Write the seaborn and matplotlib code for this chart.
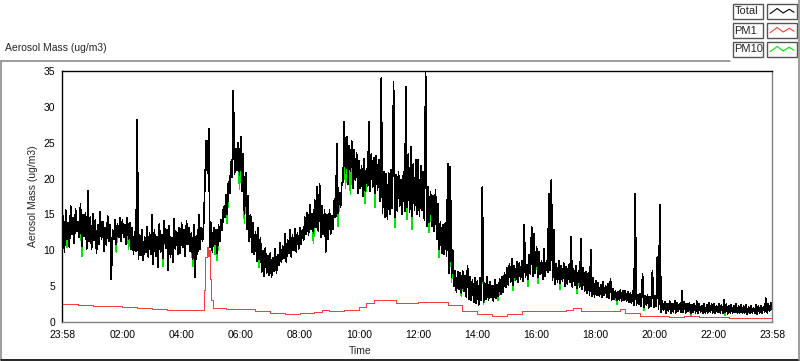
import numpy as np
import pandas as pd
import matplotlib
matplotlib.use("Agg")
import matplotlib.pyplot as plt
from matplotlib.lines import Line2D
from matplotlib.patches import Rectangle
import seaborn as sns

# ---------------- data ----------------
# Total aerosol mass read per 5-minute bin from 23:58: the low and the high
# reading of the noisy trace inside each bin (one row per hour)
total_start = "2024-01-01 23:58"
bin_min = 5
total_lo = [
    7.0, 9.8, 11.5, 10.4, 12.2, 11.0, 12.6, 11.8, 10.6, 12.0, 10.2, 11.3,
    10.1, 11.4, 9.6, 10.8, 11.6, 9.9, 10.7, 11.2, 5.9, 11.5, 10.9, 11.8,
    11.2, 11.8, 10.9, 11.5, 10.2, 9.5, 9.9, 8.7, 9.3, 8.6, 9.8, 9.1,
    9.5, 8.1, 9.2, 7.6, 9.8, 8.9, 10.3, 7.2, 9.0, 8.4, 10.1, 9.4,
    9.6, 10.4, 9.2, 10.8, 9.9, 8.8, 6.3, 9.5, 10.1, 11.2, 19.5, 20.8,
    10.5, 9.8, 10.9, 9.6, 11.2, 12.8, 14.6, 15.1, 17.9, 20.2, 20.6, 21.2,
    20.5, 18.2, 15.0, 13.0, 11.2, 9.8, 9.4, 8.5, 8.7, 7.0, 6.4, 6.8,
    6.5, 6.2, 7.1, 6.8, 7.9, 8.3, 8.9, 8.4, 9.6, 9.1, 10.0, 9.8,
    10.2, 10.9, 11.4, 12.3, 12.1, 12.9, 12.4, 13.2, 12.6, 11.8, 12.2, 9.8,
    11.5, 12.3, 13.0, 14.6, 15.2, 16.0, 19.5, 20.8, 19.2, 21.0, 18.6, 19.8,
    18.0, 18.6, 17.5, 18.3, 19.0, 18.2, 18.8, 17.9, 18.4, 16.8, 15.2, 14.6,
    14.4, 15.0, 15.8, 14.6, 15.5, 16.2, 15.0, 15.4, 16.0, 15.3, 14.8, 15.6,
    15.0, 14.8, 15.6, 14.2, 13.3, 13.9, 13.4, 12.6, 11.5, 10.2, 9.6, 9.5,
    9.2, 6.8, 6.3, 5.0, 4.2, 4.6, 4.0, 4.3, 3.5, 3.2, 3.0, 2.8,
    2.6, 2.3, 3.0, 2.8, 3.2, 3.0, 3.4, 2.9, 3.3, 3.6, 3.9, 4.2,
    4.9, 5.2, 5.6, 5.1, 5.8, 5.5, 6.0, 5.7, 6.2, 5.9, 6.6, 6.4,
    6.8, 6.3, 6.6, 6.0, 6.4, 6.9, 7.2, 5.8, 5.3, 5.6, 5.4, 5.7,
    5.0, 5.3, 5.6, 4.9, 5.1, 4.7, 4.9, 4.6, 4.3, 4.0, 3.8, 3.6,
    3.5, 3.8, 3.6, 3.4, 3.7, 3.5, 3.3, 3.1, 3.2, 3.0, 3.1, 2.9,
    3.0, 2.9, 2.8, 2.6, 2.4, 2.3, 2.5, 2.2, 2.1, 2.4, 2.0, 2.2,
    2.0, 2.2, 1.8, 1.4, 1.6, 1.3, 1.5, 1.2, 1.4, 1.3, 1.5, 1.4,
    1.4, 1.3, 1.5, 1.2, 1.4, 1.3, 1.2, 1.4, 1.3, 1.2, 1.3, 1.4,
    1.3, 1.2, 1.4, 1.3, 1.2, 1.4, 1.1, 1.3, 1.2, 1.4, 1.2, 1.3,
    1.2, 1.3, 1.1, 1.2, 1.3, 1.2, 1.1, 1.3, 1.2, 1.4, 1.3, 1.5,
]
total_hi = [
    14.8, 15.6, 13.9, 16.2, 14.5, 15.8, 14.0, 16.5, 14.9, 15.2, 18.3, 14.6,
    15.1, 14.2, 13.6, 15.4, 14.0, 13.2, 14.8, 13.5, 12.9, 14.3, 13.7, 14.5,
    14.2, 13.6, 14.5, 13.9, 13.1, 12.6, 28.2, 12.1, 12.8, 11.9, 13.3, 12.4,
    15.0, 12.8, 11.9, 13.7, 12.2, 14.1, 12.9, 13.4, 11.8, 14.4, 12.6, 13.2,
    13.8, 12.9, 14.1, 13.2, 12.5, 13.6, 12.0, 15.0, 13.1, 14.0, 25.3, 27.0,
    13.8, 13.2, 12.9, 13.5, 14.2, 16.0, 17.8, 19.5, 22.4, 32.3, 24.2, 25.0,
    25.8, 23.4, 20.8, 17.6, 14.9, 13.8, 12.6, 13.1, 11.8, 9.9, 10.4, 9.2,
    9.6, 8.9, 10.2, 9.4, 11.0, 10.6, 12.3, 11.5, 12.8, 12.1, 13.0, 12.4,
    13.1, 12.8, 14.6, 15.2, 16.4, 15.1, 17.0, 18.8, 19.3, 16.2, 15.6, 14.9,
    15.6, 14.8, 17.2, 24.9, 18.0, 19.4, 27.9, 25.8, 24.6, 25.2, 24.0, 23.6,
    22.5, 21.8, 22.8, 21.4, 27.9, 23.5, 22.9, 23.2, 22.6, 34.0, 21.0, 20.6,
    20.8, 21.2, 33.5, 20.5, 21.0, 19.8, 20.9, 32.8, 23.5, 24.4, 22.0, 22.6,
    22.6, 21.8, 20.9, 34.7, 18.8, 18.2, 17.6, 18.4, 16.5, 14.0, 13.6, 13.8,
    22.0, 21.6, 10.0, 7.2, 7.0, 6.8, 7.1, 6.5, 7.9, 6.3, 5.9, 6.1,
    5.8, 6.2, 18.8, 5.4, 6.3, 5.6, 5.0, 5.9, 5.2, 6.0, 6.3, 6.8,
    7.6, 8.1, 8.8, 7.9, 8.4, 8.2, 8.6, 13.5, 8.0, 9.4, 13.3, 12.3,
    10.5, 9.8, 8.6, 10.2, 8.5, 17.9, 19.8, 12.8, 8.1, 8.6, 7.9, 8.2,
    7.7, 8.0, 11.9, 7.4, 7.8, 7.2, 11.6, 7.5, 7.0, 6.8, 10.1, 6.2,
    5.8, 5.5, 5.2, 5.6, 5.0, 5.3, 6.0, 4.6, 4.4, 4.2, 4.5, 4.3,
    4.4, 4.2, 4.0, 4.3, 17.9, 3.8, 3.9, 6.7, 3.6, 3.8, 3.5, 7.2,
    3.6, 9.1, 16.4, 3.0, 2.8, 2.6, 2.9, 2.5, 3.0, 2.7, 2.6, 4.4,
    2.8, 2.5, 2.7, 2.4, 2.6, 2.9, 2.5, 2.3, 2.6, 2.4, 2.7, 2.5,
    2.5, 2.3, 2.6, 2.4, 3.1, 2.5, 2.2, 2.4, 2.3, 2.5, 2.2, 2.4,
    2.2, 2.4, 2.1, 2.3, 2.0, 2.4, 2.2, 2.3, 2.1, 3.3, 2.6, 2.7,
]
total_end_value = 1.8  # reading at 23:58 of the second day

# PM10 follows Total except in these bins, where its low reading is lower
pm10_low_times = ["00:08", "00:38", "01:48", "02:13", "03:23", "04:23", "05:08",
                  "05:13", "05:33", "05:58", "06:08", "06:38", "08:28", "09:18",
                  "09:33", "09:43", "10:13", "10:33", "11:13", "11:38", "11:48",
                  "12:23", "12:43", "13:08", "13:28", "14:13", "14:43", "15:13",
                  "15:43", "16:03", "16:48", "17:23", "18:43", "19:38", "21:13",
                  "22:23"]
pm10_low_values = [10.4, 9.2, 9.8, 10.2, 7.8, 7.8, 9.4,
                   8.6, 13.8, 18.5, 13.8, 7.6, 11.0, 13.4,
                   18.6, 17.8, 16.5, 16.0, 13.2, 14.3, 13.0,
                   12.5, 9.0, 5.6, 3.6, 2.5, 3.0, 4.4,
                   5.0, 5.4, 4.6, 4.0, 2.5, 1.6, 0.9,
                   1.0]

# PM1 (smooth red trace)
pm1_times = ["23:58", "00:30", "01:00", "01:30", "02:00", "02:30", "03:00", "03:30",
             "04:00", "04:30", "04:44", "04:46", "04:49", "04:52", "04:54", "04:56",
             "04:58", "05:00", "05:05", "05:30", "06:00", "06:30", "07:00", "07:30",
             "08:00", "08:30", "08:45", "09:00", "09:30", "10:00", "10:15", "10:30",
             "11:00", "11:15", "11:30", "12:00", "12:30", "13:00", "13:30", "14:00",
             "14:30", "15:00", "15:30", "16:00", "16:30", "17:00", "17:15", "17:30",
             "18:00", "18:30", "18:50", "19:00", "19:30", "20:00", "20:30", "21:00",
             "21:30", "22:00", "22:30", "23:00", "23:30", "23:58"]
pm1_values = [2.5, 2.4, 2.3, 2.2, 2.1, 2.0, 1.8, 1.7,
              1.7, 1.7, 1.7, 4.5, 9.0, 10.5, 9.2, 10.0,
              6.0, 3.0, 2.0, 1.8, 1.8, 1.6, 1.2, 1.1,
              1.2, 1.4, 1.7, 1.5, 1.7, 2.1, 2.6, 3.0,
              3.0, 2.6, 2.7, 2.8, 2.8, 2.4, 1.6, 1.1,
              0.9, 1.1, 1.6, 1.6, 1.6, 1.7, 2.0, 1.6,
              1.5, 1.5, 1.8, 1.3, 0.9, 0.8, 0.7, 0.8,
              0.7, 0.7, 0.6, 0.6, 0.6, 0.5]

y_ticks = [0, 5, 10, 15, 20, 25, 30, 35]
x_tick_labels = ["23:58", "02:00", "04:00", "06:00", "08:00", "10:00", "12:00",
                 "14:00", "16:00", "18:00", "20:00", "22:00", "23:58"]
series_names = ["Total", "PM1", "PM10"]
series_colors = ["#000000", "#ff3b3b", "#00e600"]

# ---------------- helpers ----------------
base = pd.Timestamp(total_start)
step = pd.Timedelta(minutes=bin_min)


def to_times(hhmm_list):
    out, prev = [], -1
    for s in hhmm_list:
        h, m = map(int, s.split(":"))
        off = (h * 60 + m - (base.hour * 60 + base.minute)) % 1440
        if off < prev or (prev >= 0 and off == 0):
            off += 1440
        prev = off
        out.append(base + pd.Timedelta(minutes=off))
    return out


def trace(lo, hi):
    times, vals = [], []
    for i, (a, b) in enumerate(zip(lo, hi)):
        times += [base + i * step, base + i * step + step / 2]
        vals += [a, b]
    times.append(base + len(lo) * step)
    vals.append(total_end_value)
    return pd.DataFrame({"time": times, "mass": vals})


pm10_lo = list(total_lo)
for t, v in zip(to_times(pm10_low_times), pm10_low_values):
    pm10_lo[int((t - base) / step)] = v

df_total = trace(total_lo, total_hi)
df_pm10 = trace(pm10_lo, total_hi)
df_pm1 = pd.DataFrame({"time": to_times(pm1_times), "mass": pm1_values})

# ---------------- figure ----------------
sns.set_style("white")
plt.rcParams["font.family"] = ["Liberation Sans", "DejaVu Sans"]
FS = 7.5

W, H = 800, 361
fig = plt.figure(figsize=(W / 100, H / 100), dpi=100)
ax = fig.add_axes([62 / W, (H - 322) / H, 710 / W, 251 / H])

LW = 0.5
sns.lineplot(data=df_pm10, x="time", y="mass", ax=ax, color=series_colors[2],
             linewidth=LW, antialiased=False)
sns.lineplot(data=df_pm1, x="time", y="mass", ax=ax, color=series_colors[1],
             linewidth=LW, drawstyle="steps-post", antialiased=False)
sns.lineplot(data=df_total, x="time", y="mass", ax=ax, color=series_colors[0],
             linewidth=LW, antialiased=False)

ax.set_ylim(0, 35)
ax.set_yticks(y_ticks)
ax.set_yticklabels([str(v) for v in y_ticks])

x_end = base + pd.Timedelta(minutes=1440)
ax.set_xlim(base, x_end)
tick_times = [base] + [base.normalize() + pd.Timedelta(days=1, hours=h) for h in range(2, 24, 2)] + [x_end]
ax.set_xticks(tick_times)
ax.set_xticklabels(x_tick_labels)
minor = pd.date_range(base.normalize() + pd.Timedelta(days=1), x_end, freq="15min")
ax.set_xticks(list(minor), minor=True)

ax.tick_params(axis="both", which="major", labelsize=FS, length=3, width=0.8,
               pad=2, color="black", labelcolor="black")
ax.tick_params(axis="x", which="minor", length=2, width=0.8, color="black")
ax.tick_params(axis="x", which="major", pad=3)
ax.xaxis.get_major_ticks()[0].tick1line.set_markeredgewidth(2)

ax.set_xlabel("Time", fontsize=FS)
ax.set_ylabel("Aerosol Mass (ug/m3)", fontsize=FS, labelpad=4)
ax.xaxis.set_label_coords(0.42, -0.095)

for side in ["top", "left"]:
    ax.spines[side].set_color("black")
    ax.spines[side].set_linewidth(1.0)
for side in ["bottom", "right"]:
    ax.spines[side].set_color("#808080")
    ax.spines[side].set_linewidth(1.0)
ax.grid(False)

# ---------------- panel frame & title ----------------
def fx(x):
    return x / W


def fy(y):
    return 1 - y / H


fig.add_artist(Line2D([fx(0.5), fx(730)], [fy(61), fy(61)], color="#8c8c8c", lw=1.2))
fig.add_artist(Line2D([fx(0.5), fx(0.5)], [fy(61), fy(359)], color="#8c8c8c", lw=1.2))
fig.add_artist(Line2D([fx(0.5), fx(799)], [fy(359.5), fy(359.5)], color="black", lw=1.2))
fig.add_artist(Line2D([fx(799), fx(799)], [fy(0), fy(360)], color="#8c8c8c", lw=1.2))

fig.text(fx(5), fy(48), "Aerosol Mass (ug/m3)", fontsize=FS, ha="left", va="center")

# ---------------- legend (LabVIEW-style plot legend) ----------------
zig_x = np.array([0.0, 0.3, 0.55, 0.8, 1.0])
zig_y = np.array([0.35, 0.7, 0.4, 0.65, 0.45])
for i, (name, col) in enumerate(zip(series_names, series_colors)):
    top = 4 + 19 * i
    h = 15
    fig.add_artist(Rectangle((fx(733), fy(top + h)), fx(30), h / H, transform=fig.transFigure,
                             facecolor="white", edgecolor="#555555", lw=1.0))
    fig.text(fx(734.5), fy(top + h / 2), name, fontsize=FS + 0.5, ha="left", va="center")
    fig.add_artist(Rectangle((fx(767), fy(top + h)), fx(30), h / H, transform=fig.transFigure,
                             facecolor="white", edgecolor="#555555", lw=1.0))
    xs = fx(770) + zig_x * fx(24)
    ys = fy(top + h) + zig_y * (h / H)
    fig.add_artist(Line2D(xs, ys, color=col, lw=0.8))

fig.savefig("out.png", dpi=100)
